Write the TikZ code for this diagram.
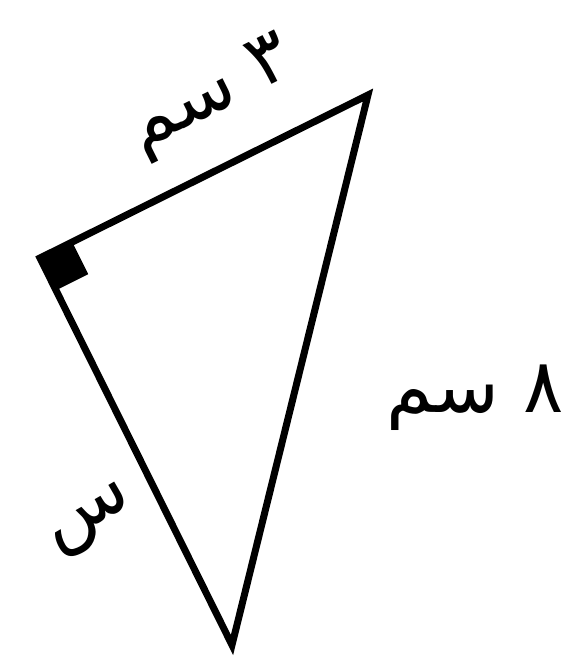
\documentclass[tikz,border=0pt]{standalone}
\usepackage{fontspec}
\usetikzlibrary{calc}
\TeXXeTstate=1
\newfontfamily\arabicfont[Script=Arabic]{DejaVu Sans}
\begin{document}
\begin{tikzpicture}[x=1pt,y=1pt,
  edge/.style={line width=7pt,line join=miter,line cap=butt},
  lbl/.style={font=\arabicfont\fontsize{75}{85}\selectfont,inner sep=0pt}]
\useasboundingbox (0,0) rectangle (574,-666);
\coordinate (A) at (40,-258);
\coordinate (B) at (368,-95);
\coordinate (C) at (232,-645);
\coordinate (P) at ($(A)!36pt!(B)$);
\coordinate (Q) at ($(A)!36pt!(C)$);
\coordinate (R) at ($(P)+(Q)-(A)$);
\fill (A) -- (P) -- (R) -- (Q) -- cycle;
\draw[edge] (A) -- (B) -- (C) -- cycle;
\node[lbl,rotate=26.4] (t1) at (212,-98) {\beginR ٣ سم\endR};
\node[lbl] (t2) at (475,-398) {\beginR ٨ سم\endR};
\node[lbl,rotate=30] (t3) at (92,-522) {\beginR س\endR};
\end{tikzpicture}
\end{document}
